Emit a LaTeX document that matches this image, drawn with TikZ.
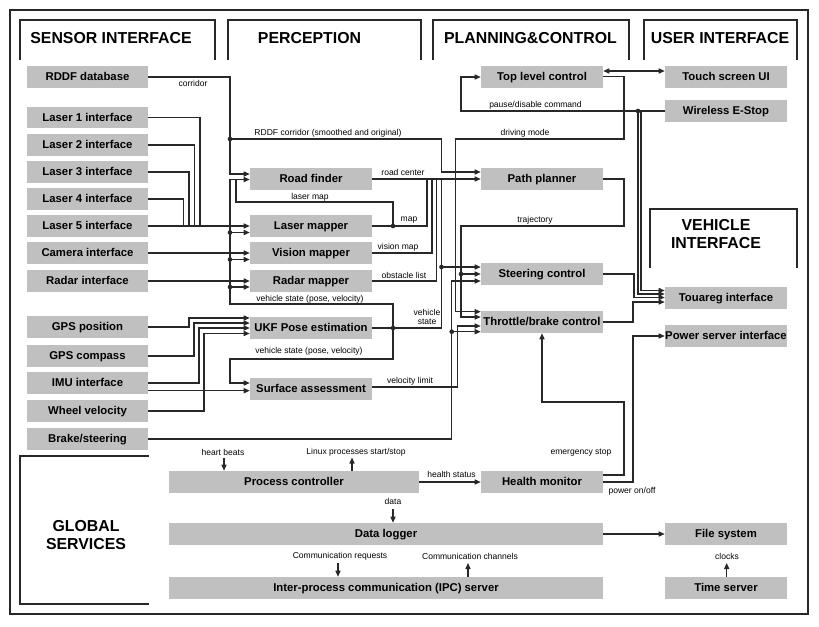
\documentclass[tikz,border=0pt]{standalone}
\usepackage{fontspec}
\setmainfont{Liberation Sans}
\usetikzlibrary{arrows.meta}
\definecolor{boxgray}{RGB}{192,192,192}
\definecolor{ink}{RGB}{40,40,40}
\newcommand\bxfont{\bfseries\fontsize{8.5}{9}\selectfont}
\newcommand\lbfont{\fontsize{6.4}{7.4}\selectfont}
\newcommand\hdfont{\bfseries\fontsize{11.9}{14}\selectfont}
\newcommand\bx[6]{\node[box,minimum width={(#4-#2)*0.75pt},minimum height={(#5-#3)*0.75pt}] (#1) at ({(#2+#4)/2},{(#3+#5)/2}) {#6};}
\begin{document}
\begin{tikzpicture}[x=0.75pt,y=-0.75pt,
  box/.style={fill=boxgray,inner sep=0pt,font=\bxfont,text=black,anchor=center,text height=6.1pt,text depth=0.3pt},
  conn/.style={draw=ink,line width=0.95pt},
  arr/.style={conn,-{Triangle[length=4.5pt,width=3.8pt]}},
  darr/.style={conn,{Triangle[length=4.5pt,width=3.8pt]}-{Triangle[length=4.5pt,width=3.8pt]}},
  dot/.style={circle,fill=ink,inner sep=0pt,minimum size=3.5pt},
  lbl/.style={font=\lbfont,inner sep=0.5pt,text=black},
  hdr/.style={draw=ink,line width=1.1pt},
  hdtext/.style={font=\hdfont,text=black,inner sep=0pt,align=center},
]
\useasboundingbox (0,0) rectangle (819,626);
\fill[white] (0,0) rectangle (819,626);
\draw[ink,line width=1.3pt] (10,10) rectangle (808,614);

% ---------- section headers ----------
\draw[hdr] (20,60) |- (215,20) -- (215,60);
\draw[hdr] (228,60) |- (421,20) -- (421,60);
\draw[hdr] (433,60) |- (629,20) -- (629,60);
\draw[hdr] (644,60) |- (797,20) -- (797,60);
\draw[hdr] (650,268) |- (797,209) -- (797,268);
\draw[hdr] (149,456) -| (20,604) -- (149,604);
\node[hdtext] (hsens) at (111,38.5) {SENSOR INTERFACE};
\node[hdtext] (hperc) at (309.5,38.5) {PERCEPTION};
\node[hdtext] (hplan) at (530.5,38.5) {PLANNING\&CONTROL};
\node[hdtext] (huser) at (720,38.5) {USER INTERFACE};
\node[hdtext] (hveh) at (716,234) {VEHICLE\\INTERFACE};
\node[hdtext] (hglob) at (86,535) {GLOBAL\\SERVICES};

% ---------- sensor interface ----------
\bx{rddf}{27}{66}{148}{88}{RDDF database}
\bx{l1}{27}{107}{148}{128}{Laser 1 interface}
\bx{l2}{27}{134}{148}{156}{Laser 2 interface}
\bx{l3}{27}{161}{148}{183}{Laser 3 interface}
\bx{l4}{27}{188}{148}{210}{Laser 4 interface}
\bx{l5}{27}{215}{148}{237}{Laser 5 interface}
\bx{cam}{27}{242}{148}{264}{Camera interface}
\bx{radar}{27}{270}{148}{292}{Radar interface}
\bx{gpsp}{27}{316}{148}{338}{GPS position}
\bx{gpsc}{27}{345}{148}{367}{GPS compass}
\bx{imu}{27}{372}{148}{394}{IMU interface}
\bx{wheel}{27}{400}{148}{422}{Wheel velocity}
\bx{brake}{27}{428}{148}{450}{Brake/steering}

% ---------- perception ----------
\bx{roadf}{250}{168}{372}{190}{Road finder}
\bx{lmap}{250}{215}{372}{237}{Laser mapper}
\bx{vmap}{250}{242}{372}{264}{Vision mapper}
\bx{rmap}{250}{270}{372}{292}{Radar mapper}
\bx{ukf}{250}{317}{372}{339}{UKF Pose estimation}
\bx{surf}{250}{378}{372}{400}{Surface assessment}

% ---------- planning & control ----------
\bx{top}{481}{66}{603}{88}{Top level control}
\bx{path}{481}{168}{603}{190}{Path planner}
\bx{steer}{481}{263}{603}{285}{Steering control}
\bx{throttle}{481}{311}{603}{333}{Throttle/brake control}
\bx{health}{481}{471}{603}{493}{Health monitor}

% ---------- user / vehicle interface ----------
\bx{touch}{665}{66}{787}{88}{Touch screen UI}
\bx{estop}{665}{100}{787}{122}{Wireless E-Stop}
\bx{touareg}{665}{287}{787}{309}{Touareg interface}
\bx{power}{665}{325}{787}{347}{Power server interface}
\bx{files}{665}{523}{787}{545}{File system}
\bx{time}{665}{577}{787}{599}{Time server}

% ---------- global services ----------
\bx{proc}{169}{471}{419}{493}{Process controller}
\bx{logger}{169}{523}{603}{545}{Data logger}
\bx{ipc}{169}{577}{603}{599}{Inter-process communication (IPC) server}

% ---------- junction dots ----------
\node[dot] (dcorr) at (230,139) {};
\node[dot] (dvs1) at (230,232.5) {};
\node[dot] (dvs2) at (230,259.5) {};
\node[dot] (dvs3) at (230,287) {};
\node[dot] (dlm) at (393,226) {};
\node[dot] (dukf) at (393,328) {};
\node[dot] (dvst) at (441.5,267) {};
\node[dot] (dtraj) at (461,274) {};
\node[dot] (dbrk) at (451.7,331.7) {};
\node[dot] (destop) at (638,111) {};

% ---------- connectors: sensors -> perception ----------
\draw[arr] (rddf.east) -| (dcorr.center) |- (roadf.west |- 0,174);
\draw[conn] (l1.east) -| (200,226);
\draw[conn] (l2.east) -| (194.5,226);
\draw[conn] (l3.east) -| (189,226);
\draw[conn] (l4.east) -| (183.5,226);
\draw[arr] (l5.east) -- (lmap.west);
\draw[arr] (cam.east) -- (vmap.west);
\draw[arr] (radar.east) -- (rmap.west);
% vehicle state bus
\draw[arr] (dukf.center) |- (230,304) |- (roadf.west |- 0,179.5);
\draw[arr] (dvs1.center) -- (lmap.west |- dvs1.center);
\draw[arr] (dvs2.center) -- (vmap.west |- dvs2.center);
\draw[arr] (dvs3.center) -- (rmap.west |- dvs3.center);
% laser map to road finder
\draw[conn] (dlm.center) |- (236,202) -- (236,179.5);
% UKF inputs
\draw[arr] (gpsp.east) -| (189,318) -- (ukf.west |- 0,318);
\draw[arr] (gpsc.east) -| (194,323) -- (ukf.west |- 0,323);
\draw[arr] (imu.east) -| (199,328) -- (ukf.west |- 0,328);
\draw[arr] (wheel.east) -| (204,333.5) -- (ukf.west |- 0,333.5);
% surface assessment inputs
\draw[arr] (dukf.center) |- (230,359) |- (surf.west |- 0,383);
\draw[arr] (imu.east |- 0,390.7) -- (surf.west |- 0,390.7);

% ---------- perception -> planning ----------
\draw[arr] (roadf.east) -- (path.west);
\draw[arr] (dcorr.center) -| (441.5,172) -- (path.west |- 0,172);
\draw[conn] (lmap.east) -| (427,179);
\draw[conn] (vmap.east) -| (432,179);
\draw[conn] (rmap.east) -| (436.5,179);
\draw[conn] (ukf.east) -| (441.5,179);
\draw[arr] (dvst.center) -- (steer.west |- dvst.center);
\draw[arr] (surf.east |- 0,387) -| (457.7,326) -- (throttle.west |- 0,326);
\draw[arr] (brake.east) -| (451.7,281) -- (steer.west |- 0,281);
\draw[arr] (dbrk.center) -- (throttle.west |- dbrk.center);

% ---------- planning & control ----------
\draw[darr] (top.east |- 0,71) -- (touch.west |- 0,71);
\draw[arr] (top.east |- 0,76.5) -| (624,139) -| (455.7,311.7) -- (throttle.west |- 0,311.7);
\draw[arr] (estop.west) -| (461,77) -- (top.west);
\draw[arr] (path.east) -| (624,226) -| (461,317) -- (throttle.west |- 0,317);
\draw[arr] (dtraj.center) -- (steer.west |- dtraj.center);
\draw[arr] (641,111) |- (touareg.west |- 0,290.5);
\draw[arr] (destop.center) |- (touareg.west |- 0,294);
\draw[arr] (steer.east) -| (634,297.5) -- (touareg.west |- 0,297.5);
\draw[arr] (throttle.east) -| (633,302) -- (touareg.west |- 0,302);
\draw[arr] (health.east |- 0,475) -| (624,402) -| (throttle.south);
\draw[arr] (health.east |- 0,482) -| (633,336) -- (power.west);

% ---------- global services ----------
\coordinate (hb) at (224,457.5);
\coordinate (lx) at (352,457.5);
\coordinate (dt) at (393,509);
\coordinate (cr) at (338,563);
\coordinate (cc) at (468,563);
\coordinate (ck) at (726.7,563);
\draw[arr] (hb) -- (hb |- proc.north);
\draw[arr] (lx |- proc.north) -- (lx);
\draw[arr] (proc.east) -- (health.west);
\draw[arr] (dt) -- (dt |- logger.north);
\draw[arr] (logger.east) -- (files.west);
\draw[arr] (cr) -- (cr |- ipc.north);
\draw[arr] (cc |- ipc.north) -- (cc);
\draw[arr] (ck |- time.north) -- (ck);

% ---------- labels ----------
\node[lbl] (tcorr) at (193,83) {corridor};
\node[lbl] (trddf) at (328,133.5) {RDDF corridor (smoothed and original)};
\node[lbl] (tlmap) at (310,197) {laser map};
\node[lbl] (troad) at (403,172.5) {road center};
\node[lbl] (tmap) at (409,220.5) {map};
\node[lbl] (tvis) at (398,247.5) {vision map};
\node[lbl] (tobs) at (404,275) {obstacle list};
\node[lbl] (tvs1) at (310,299) {vehicle state (pose, velocity)};
\node[lbl,align=center] (tvs2) at (427,317) {vehicle\\state};
\node[lbl] (tvs3) at (309,351) {vehicle state (pose, velocity)};
\node[lbl] (tvel) at (410,381.5) {velocity limit};
\node[lbl] (tpause) at (535.5,105.5) {pause/disable command};
\node[lbl] (tdrive) at (525,133.5) {driving mode};
\node[lbl] (ttraj) at (535,220.5) {trajectory};
\node[lbl] (temerg) at (581,452.5) {emergency stop};
\node[lbl] (tpower) at (632,491.5) {power on/off};
\node[lbl] (thb) at (223,452.5) {heart beats};
\node[lbl] (tlinux) at (356,452.5) {Linux processes start/stop};
\node[lbl] (thealth) at (451.5,474.5) {health status};
\node[lbl] (tdata) at (393,501.5) {data};
\node[lbl] (tcreq) at (340,556.5) {Communication requests};
\node[lbl] (tcchan) at (470,556.5) {Communication channels};
\node[lbl] (tclock) at (727,556.5) {clocks};
\end{tikzpicture}
\end{document}
